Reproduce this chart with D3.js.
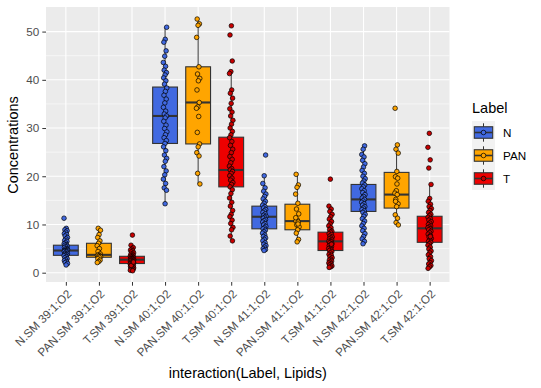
<!DOCTYPE html>
<html>
<head>
<meta charset="utf-8">
<script src="https://cdn.jsdelivr.net/npm/d3@7"></script>
<style>
  body { margin: 0; background: #ffffff; }
  text { font-family: "Liberation Sans", Arial, sans-serif; }
</style>
</head>
<body>
<div id="chart"></div>
<script>
// groups, in the order of the x axis
var groupNames = ["N.SM 39:1;O2", "PAN.SM 39:1;O2", "T.SM 39:1;O2",
                  "N.SM 40:1;O2", "PAN.SM 40:1;O2", "T.SM 40:1;O2",
                  "N.SM 41:1;O2", "PAN.SM 41:1;O2", "T.SM 41:1;O2",
                  "N.SM 42:1;O2", "PAN.SM 42:1;O2", "T.SM 42:1;O2"];
var groupLabel = ["N", "PAN", "T", "N", "PAN", "T", "N", "PAN", "T", "N", "PAN", "T"];
var labels = ["N", "PAN", "T"];

// box statistics
var q1s      = [3.6, 3.2, 1.9, 26.8, 26.7, 17.8,  9.1,  8.9, 4.6, 12.7, 13.4,  6.3];
var medians  = [4.6, 3.7, 2.7, 32.5, 35.3, 21.3, 11.6, 10.7, 6.5, 15.2, 16.2,  9.2];
var q3s      = [5.7, 6.1, 3.4, 38.5, 42.7, 28.1, 13.8, 14.2, 8.4, 18.3, 20.8, 11.7];
var whiskLo  = [1.6, 2.1, 0.4, 14.3, 18.4,  6.6,  4.6,  6.4, 1.1,  6.0,  9.9,  0.9];
var whiskHi  = [9.2, 9.2, 5.2, 50.9, 52.6, 41.7, 20.1, 20.4, 13.8, 26.3, 26.5, 18.3];

// individual concentrations
var n39 = [11.3, 9.2, 8.9, 8.7, 8.4, 8.1, 7.9, 7.6, 7.3, 7.0, 6.7, 6.5, 6.2, 6.0, 5.8, 5.7, 5.5, 5.4, 5.2, 5.0, 4.9, 4.8,
           4.7, 4.6, 4.6, 4.5, 4.4, 4.3, 4.1, 4.0, 3.9, 3.8, 3.7, 3.6, 3.5, 3.3, 3.1, 2.9, 2.7, 2.5, 2.3, 2.1, 1.9, 1.6];
var pan39 = [9.2, 8.8, 7.9, 7.3, 6.6, 6.1, 5.6, 5.0, 4.4, 3.9, 3.7, 3.6, 3.5, 3.4, 3.3, 3.2, 2.9, 2.6, 2.3, 2.1];
var t39 = [7.8, 5.7, 5.2, 4.9, 4.7, 4.5, 4.3, 4.1, 3.9, 3.8, 3.6, 3.5, 3.4, 3.3, 3.2, 3.1, 3.0, 2.9, 2.9, 2.8, 2.7, 2.7, 2.6,
           2.5, 2.5, 2.4, 2.3, 2.2, 2.1, 2.0, 2.0, 1.9, 1.9, 1.8, 1.7, 1.6, 1.5, 1.4, 1.3, 1.2, 1.1, 1.0, 0.9, 0.8, 0.7, 0.6,
           0.5, 0.4, 1.5, 2.2];
var n40 = [50.9, 48.4, 47.8, 46.0, 44.9, 43.6, 42.8, 42.0, 41.5, 41.0, 40.4, 39.8, 39.1, 38.3, 37.6, 36.8, 36.0, 35.2, 34.3,
           33.5, 32.9, 32.5, 32.1, 31.4, 30.6, 29.9, 29.2, 28.6, 28.0, 27.4, 26.8, 26.1, 25.3, 24.4, 23.7, 23.1, 22.0, 21.1,
           20.3, 19.4, 18.5, 17.6, 17.1, 14.3];
var pan40 = [52.6, 51.6, 51.3, 48.8, 42.7, 41.2, 40.3, 39.8, 37.9, 35.3, 34.4, 34.1, 32.4, 29.1, 26.7, 26.1, 24.9, 24.2, 20.6, 18.4];
var t40 = [51.2, 49.3, 43.9, 41.7, 41.3, 37.9, 37.2, 36.2, 35.1, 34.0, 33.3, 32.5, 31.6, 30.8, 30.0, 29.3, 28.6, 28.0, 27.2,
           26.4, 25.6, 24.9, 24.1, 23.5, 22.8, 22.1, 21.6, 21.3, 21.0, 20.6, 20.1, 19.6, 19.2, 18.7, 18.3, 17.8, 17.2, 16.4,
           15.5, 14.6, 13.8, 12.9, 12.1, 11.6, 10.9, 10.2, 9.4, 8.9, 7.6, 6.6];
var n41 = [24.4, 20.1, 18.5, 17.6, 16.9, 16.3, 15.8, 15.3, 14.8, 14.4, 14.0, 13.7, 13.4, 13.1, 12.8, 12.5, 12.2, 11.9, 11.7,
           11.5, 11.3, 11.0, 10.8, 10.5, 10.2, 9.9, 9.6, 9.3, 9.1, 8.8, 8.5, 8.2, 7.8, 7.5, 7.2, 6.9, 6.6, 6.2, 5.9, 5.6,
           5.3, 5.0, 4.8, 4.6];
var pan41 = [20.4, 18.2, 17.7, 16.3, 14.4, 13.2, 12.2, 10.9, 10.7, 10.5, 9.9, 9.5, 8.9, 8.2, 6.9, 6.4, 11.4, 10.1];
var t41 = [19.4, 13.8, 13.2, 12.7, 12.1, 11.6, 11.1, 10.6, 10.1, 9.7, 9.3, 8.9, 8.6, 8.4, 8.1, 7.9, 7.6, 7.4, 7.2, 7.0, 6.8,
           6.6, 6.5, 6.4, 6.2, 6.0, 5.8, 5.6, 5.4, 5.2, 5.0, 4.8, 4.6, 4.4, 4.1, 3.8, 3.6, 3.3, 3.1, 2.8, 2.6, 2.4, 2.2,
           2.0, 1.8, 1.6, 1.4, 1.2, 1.1, 5.9];
var n42 = [26.3, 25.6, 24.5, 24.0, 23.3, 22.6, 21.9, 21.2, 20.6, 20.0, 19.5, 19.0, 18.6, 18.2, 17.8, 17.4, 17.0, 16.6, 16.2,
           15.8, 15.5, 15.2, 14.9, 14.6, 14.3, 14.0, 13.7, 13.4, 13.1, 12.8, 12.5, 12.1, 11.7, 11.2, 10.7, 10.2, 9.7, 9.2,
           8.7, 8.1, 7.5, 7.0, 6.5, 6.0];
var pan42 = [34.1, 26.5, 25.6, 24.8, 21.0, 19.9, 19.6, 17.0, 16.5, 16.2, 15.2, 14.3, 13.7, 12.0, 11.3, 10.4, 9.9, 18.4, 14.8];
var t42 = [28.9, 26.0, 23.4, 21.7, 18.3, 15.4, 14.8, 14.2, 13.7, 13.3, 12.9, 12.5, 12.1, 11.8, 11.5, 11.2, 10.9, 10.6, 10.3,
           10.0, 9.7, 9.5, 9.3, 9.1, 8.9, 8.6, 8.3, 8.0, 7.7, 7.4, 7.1, 6.8, 6.5, 6.3, 6.0, 5.7, 5.3, 4.9, 4.5, 4.1, 3.7,
           3.3, 2.9, 2.5, 2.1, 1.8, 1.5, 1.2, 0.9, 7.5];

var groupPoints = [n39, pan39, t39, n40, pan40, t40, n41, pan41, t41, n42, pan42, t42];

var yTicks = [0, 10, 20, 30, 40, 50];
var yMinor = [5, 15, 25, 35, 45];

function main(){
    buildChart();
}

function buildChart(){
    var boxFill = {N: "#4169E1", PAN: "#FFA500", T: "#EE0000"};
    var dotFill = {N: "#4169E1", PAN: "#FFA500", T: "#C80000"};

    var margin = {top: 7, left: 46},
        width = 403.5,
        height = 275;

    var svg = d3.select("#chart")
        .append("svg")
            .attr("width", 541)
            .attr("height", 388);

    var g = svg.append("g")
        .attr("transform", "translate(" + margin.left + "," + margin.top + ")");

    var xScale = d3.scalePoint().domain(groupNames).range([0, width]).padding(0.6);
    var yScale = d3.scaleLinear().domain([-1.93, 55.1]).range([height, 0]);
    var step = xScale.step();
    var boxW = step * 0.75;

    // panel
    g.append("rect")
        .attr("width", width)
        .attr("height", height)
        .attr("fill", "#EBEBEB");

    g.selectAll(".minor")
        .data(yMinor)
        .enter().append("line")
        .attr("x1", 0).attr("x2", width)
        .attr("y1", function(d){ return yScale(d); })
        .attr("y2", function(d){ return yScale(d); })
        .attr("stroke", "#ffffff")
        .attr("stroke-width", 0.55);

    g.selectAll(".hmajor")
        .data(yTicks)
        .enter().append("line")
        .attr("x1", 0).attr("x2", width)
        .attr("y1", function(d){ return yScale(d); })
        .attr("y2", function(d){ return yScale(d); })
        .attr("stroke", "#ffffff")
        .attr("stroke-width", 1.1);

    g.selectAll(".vmajor")
        .data(groupNames)
        .enter().append("line")
        .attr("x1", function(d){ return xScale(d); })
        .attr("x2", function(d){ return xScale(d); })
        .attr("y1", 0).attr("y2", height)
        .attr("stroke", "#ffffff")
        .attr("stroke-width", 1.1);

    // boxes
    for (var i = 0; i < groupNames.length; i++){
        var cx = xScale(groupNames[i]);
        var lab = groupLabel[i];

        g.append("line")
            .attr("x1", cx).attr("x2", cx)
            .attr("y1", yScale(whiskHi[i])).attr("y2", yScale(q3s[i]))
            .attr("stroke", "#333333").attr("stroke-width", 1);
        g.append("line")
            .attr("x1", cx).attr("x2", cx)
            .attr("y1", yScale(q1s[i])).attr("y2", yScale(whiskLo[i]))
            .attr("stroke", "#333333").attr("stroke-width", 1);
        g.append("rect")
            .attr("x", cx - boxW / 2)
            .attr("y", yScale(q3s[i]))
            .attr("width", boxW)
            .attr("height", yScale(q1s[i]) - yScale(q3s[i]))
            .attr("fill", boxFill[lab])
            .attr("stroke", "#333333")
            .attr("stroke-width", 1.1);
        g.append("line")
            .attr("x1", cx - boxW / 2).attr("x2", cx + boxW / 2)
            .attr("y1", yScale(medians[i])).attr("y2", yScale(medians[i]))
            .attr("stroke", "#333333").attr("stroke-width", 2.1);
    }

    // jittered points (fixed offsets instead of random ones)
    for (var i = 0; i < groupNames.length; i++){
        var cx = xScale(groupNames[i]);
        var lab = groupLabel[i];
        g.selectAll(".pt" + i)
            .data(groupPoints[i])
            .enter().append("circle")
            .attr("cx", function(d, j){ return cx + (((j * 0.618034 + i * 0.31) % 1) - 0.5) * step * 0.11; })
            .attr("cy", function(d){ return yScale(d); })
            .attr("r", 2.3)
            .attr("fill", dotFill[lab])
            .attr("stroke", "#000000")
            .attr("stroke-width", 0.7);
    }

    // y axis
    var yAxis = g.append("g")
        .call(d3.axisLeft(yScale).tickValues(yTicks).tickSize(3.7).tickPadding(3));
    yAxis.select(".domain").remove();
    yAxis.selectAll("line").attr("stroke", "#333333");
    yAxis.selectAll("text")
        .attr("fill", "#4D4D4D")
        .style("font-size", "11.7px");

    // x axis
    var xAxis = g.append("g")
        .attr("transform", "translate(0," + height + ")")
        .call(d3.axisBottom(xScale).tickSize(3.7));
    xAxis.select(".domain").remove();
    xAxis.selectAll("line").attr("stroke", "#333333");
    xAxis.selectAll("text")
        .attr("fill", "#4D4D4D")
        .style("font-size", "11.7px")
        .style("text-anchor", "end")
        .attr("y", 0).attr("dy", "0.72em")
        .attr("transform", "translate(0,6.6)rotate(-45)");

    // axis titles
    svg.append("text")
        .attr("transform", "translate(18,145)rotate(-90)")
        .attr("text-anchor", "middle")
        .style("font-size", "14.5px")
        .text("Concentrations");

    svg.append("text")
        .attr("x", margin.left + width / 2)
        .attr("y", 378)
        .attr("text-anchor", "middle")
        .style("font-size", "14.5px")
        .text("interaction(Label, Lipids)");

    // legend
    var legend = svg.append("g").attr("transform", "translate(472,121)");
    legend.append("text")
        .attr("x", 0).attr("y", -8)
        .style("font-size", "14.5px")
        .text("Label");

    var keySize = 23;
    var key = legend.selectAll(".key")
        .data(labels)
        .enter().append("g")
        .attr("transform", function(d, k){ return "translate(0," + k * keySize + ")"; });

    key.append("rect")
        .attr("width", keySize).attr("height", keySize)
        .attr("fill", "#F2F2F2");
    key.append("line")
        .attr("x1", keySize / 2).attr("x2", keySize / 2)
        .attr("y1", keySize * 0.1).attr("y2", keySize * 0.9)
        .attr("stroke", "#333333").attr("stroke-width", 1);
    key.append("rect")
        .attr("x", keySize * 0.1).attr("y", keySize * 0.25)
        .attr("width", keySize * 0.8).attr("height", keySize * 0.5)
        .attr("fill", function(d){ return boxFill[d]; })
        .attr("stroke", "#333333").attr("stroke-width", 1.1);
    key.append("line")
        .attr("x1", keySize * 0.1).attr("x2", keySize * 0.9)
        .attr("y1", keySize / 2).attr("y2", keySize / 2)
        .attr("stroke", "#333333").attr("stroke-width", 1.6);
    key.append("circle")
        .attr("cx", keySize / 2).attr("cy", keySize / 2)
        .attr("r", 2.3)
        .attr("fill", function(d){ return dotFill[d]; })
        .attr("stroke", "#000000").attr("stroke-width", 0.7);
    key.append("text")
        .attr("x", keySize + 8)
        .attr("y", keySize / 2)
        .attr("dy", "0.35em")
        .style("font-size", "11.7px")
        .text(function(d){ return d; });
}

main();
</script>
</body>
</html>
